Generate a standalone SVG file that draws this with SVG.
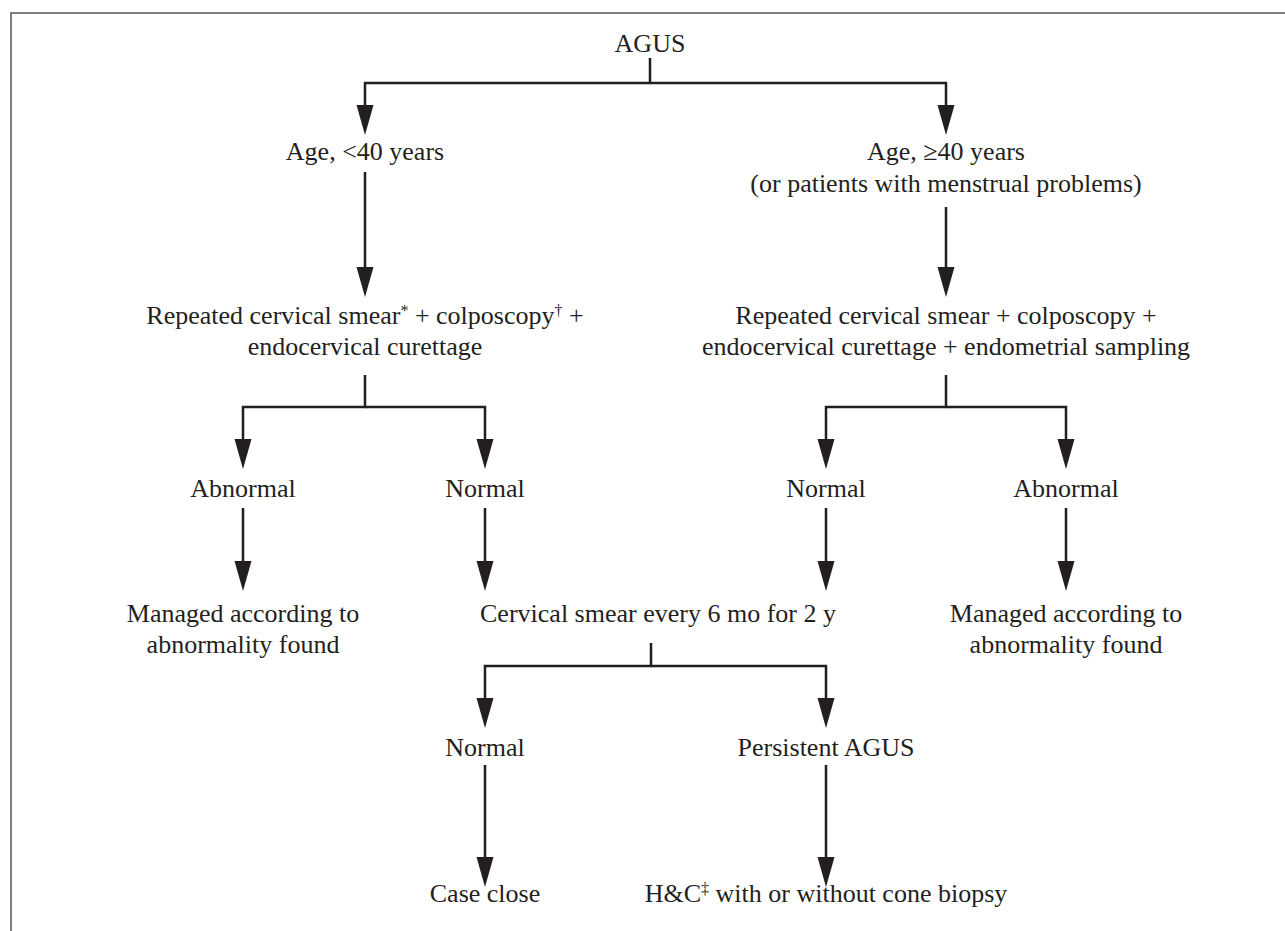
<svg xmlns="http://www.w3.org/2000/svg" width="1285" height="931" viewBox="0 0 1285 931">
<style>
  .t { font-family: "Liberation Serif", "Times New Roman", serif; font-size: 26px; fill: #231f20; text-anchor: middle; }
  .sup { font-size: 16px; }
  .c { fill: none; stroke: #231f20; stroke-width: 2.5; stroke-linejoin: miter; marker-end: url(#ah); }
  .frame { fill: none; stroke: #555555; stroke-width: 1.5; }
</style>
<defs>
  <marker id="ah" markerUnits="userSpaceOnUse" markerWidth="32" markerHeight="20" viewBox="0 -10 32 20" refX="20" refY="0" orient="auto" overflow="visible">
    <path d="M0,-8.5 L30,0 L0,8.5 Z" fill="#231f20"/>
  </marker>
</defs>
<rect width="1285" height="931" fill="#ffffff"/>
<path class="frame" d="M11,931 V13 H1285"/>
<g id="connectors">
  <path class="c" d="M650,58 V83 H365 V125"/>
  <path class="c" d="M650,83 H946 V125"/>
  <path class="c" d="M365,172 V287"/>
  <path class="c" d="M946,207 V287"/>
  <path class="c" d="M365,375 V407 H243 V459"/>
  <path class="c" d="M365,407 H485 V459"/>
  <path class="c" d="M946,375 V407 H826 V459"/>
  <path class="c" d="M946,407 H1066 V459"/>
  <path class="c" d="M243,508 V581"/>
  <path class="c" d="M485,508 V581"/>
  <path class="c" d="M826,508 V581"/>
  <path class="c" d="M1066,508 V581"/>
  <path class="c" d="M651,643 V666 H485 V718"/>
  <path class="c" d="M651,666 H826 V718"/>
  <path class="c" d="M485,765 V877"/>
  <path class="c" d="M826,765 V877"/>
</g>
<g id="agus"><text class="t" x="650" y="52">AGUS</text></g>
<g id="age-under-40"><text class="t" x="365" y="160">Age, &lt;40 years</text></g>
<g id="age-over-40"><text class="t" x="946" y="160">Age, ≥40 years</text><text class="t" x="946" y="192">(or patients with menstrual problems)</text></g>
<g id="workup-left"><text class="t" x="365" y="324">Repeated cervical smear<tspan class="sup" baseline-shift="super">*</tspan> + colposcopy<tspan class="sup" baseline-shift="super">†</tspan> +</text><text class="t" x="365" y="355">endocervical curettage</text></g>
<g id="workup-right"><text class="t" x="946" y="324">Repeated cervical smear + colposcopy +</text><text class="t" x="946" y="355">endocervical curettage + endometrial sampling</text></g>
<g id="abnormal-left"><text class="t" x="243" y="497">Abnormal</text></g>
<g id="normal-left"><text class="t" x="485" y="497">Normal</text></g>
<g id="normal-right"><text class="t" x="826" y="497">Normal</text></g>
<g id="abnormal-right"><text class="t" x="1066" y="497">Abnormal</text></g>
<g id="managed-left"><text class="t" x="243" y="622">Managed according to</text><text class="t" x="243" y="653">abnormality found</text></g>
<g id="smear-followup"><text class="t" x="658" y="622">Cervical smear every 6 mo for 2 y</text></g>
<g id="managed-right"><text class="t" x="1066" y="622">Managed according to</text><text class="t" x="1066" y="653">abnormality found</text></g>
<g id="normal-followup"><text class="t" x="485" y="756">Normal</text></g>
<g id="persistent-agus"><text class="t" x="826" y="756">Persistent AGUS</text></g>
<g id="case-close"><text class="t" x="485" y="902">Case close</text></g>
<g id="hc"><text class="t" x="826" y="902">H&amp;C<tspan class="sup" baseline-shift="super">‡</tspan> with or without cone biopsy</text></g>
</svg>
